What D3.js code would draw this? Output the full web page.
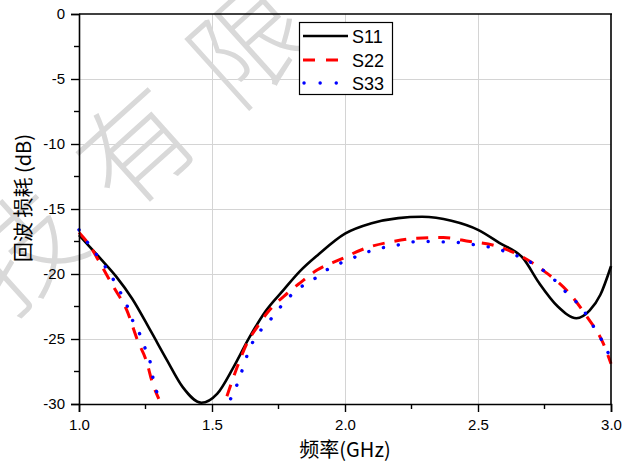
<!DOCTYPE html>
<html>
<head>
<meta charset="utf-8">
<script src="https://cdn.jsdelivr.net/npm/d3@7/dist/d3.min.js"></script>
<style>
  html, body { margin: 0; padding: 0; background: #fff; }
  svg { display: block; }
</style>
</head>
<body>
<svg id="chart" width="634" height="463"></svg>
<script>
// Return loss of three ports versus frequency (GHz, dB)
const s11Freq = [1.00, 1.08, 1.14, 1.20, 1.27, 1.33, 1.39, 1.46, 1.52, 1.58, 1.64, 1.70, 1.77, 1.83, 1.90,
                 2.00, 2.10, 2.20, 2.29, 2.40, 2.50, 2.58, 2.67, 2.73, 2.80, 2.87, 2.92, 2.96, 3.00];
const s11Vals = [-17.0, -18.8, -20.2, -21.9, -24.4, -26.6, -28.7, -29.9, -29.2, -27.2, -24.9, -22.9, -21.2, -19.8, -18.5,
                 -16.9, -16.1, -15.7, -15.6, -15.9, -16.6, -17.6, -18.8, -20.7, -22.5, -23.4, -22.8, -21.6, -19.4];

// S22 and S33 drop below the axis floor between the two branches (null = gap)
const s22Freq = [1.00, 1.04, 1.08, 1.13, 1.18, 1.22, 1.255, 1.275, 1.30, 1.43,
                 1.556, 1.594, 1.632, 1.669, 1.707, 1.782, 1.83, 1.895, 1.98, 2.08, 2.18, 2.27, 2.37, 2.47, 2.56, 2.65, 2.75, 2.84, 2.91, 2.97, 3.00];
const s22Vals = [-16.8, -17.8, -19.2, -21.0, -22.8, -25.1, -26.8, -28.3, -29.6, null,
                 -29.4, -27.2, -25.3, -24.1, -23.0, -21.5, -20.7, -19.7, -18.9, -18.0, -17.5, -17.25, -17.2, -17.5, -17.8, -18.5, -19.8, -21.4, -23.3, -25.3, -26.9];

const s33Freq = [1.00, 1.04, 1.08, 1.12, 1.15, 1.18, 1.20, 1.23, 1.25, 1.27, 1.28, 1.30, 1.43,
                 1.57, 1.60, 1.62, 1.64, 1.67, 1.72, 1.763, 1.82, 1.876, 1.93, 1.99, 2.05, 2.10, 2.16, 2.22, 2.27, 2.33, 2.39, 2.44,
                 2.50, 2.56, 2.62, 2.68, 2.73, 2.79, 2.84, 2.89, 2.93, 2.96, 2.99, 3.00];
const s33Vals = [-16.6, -17.8, -18.9, -20.1, -21.2, -22.4, -23.5, -24.7, -25.8, -27.0, -28.2, -29.4, null,
                 -29.6, -28.2, -27.0, -25.8, -24.7, -23.5, -22.4, -21.2, -20.5, -19.7, -19.1, -18.6, -18.2, -17.9, -17.7, -17.5, -17.5, -17.55, -17.6,
                 -17.8, -18.0, -18.4, -18.9, -19.5, -20.5, -21.6, -22.6, -23.9, -24.9, -26.1, -26.6];

const seriesNames = ["S11", "S22", "S33"];
const xTicks = [1.0, 1.5, 2.0, 2.5, 3.0];
const xMinorTicks = [1.25, 1.75, 2.25, 2.75];
const yTicks = [-30, -25, -20, -15, -10, -5, 0];
const yMinorTicks = [-27.5, -22.5, -17.5, -12.5, -7.5, -2.5];
const xTitle = "频率(GHz)";
const yTitle = "回波 损耗 (dB)";
const watermarkChars = ["技", "有", "限"];

const svg = d3.select("#chart");
const plotLeft = 79, plotRight = 611, plotTop = 14, plotBottom = 404;
const x = d3.scaleLinear().domain([1, 3]).range([plotLeft, plotRight]);
const y = d3.scaleLinear().domain([-30, 0]).range([plotBottom, plotTop]);

const font = '"Liberation Sans", Arial, sans-serif';
const cjk = '"Noto Sans CJK SC", "Liberation Sans", sans-serif';

// grid
const grid = svg.append("g").attr("stroke", "#d4d4d4").attr("stroke-width", 1);
grid.selectAll("line.h").data(yTicks.filter(v => v > -30 && v < 0)).join("line")
  .attr("x1", plotLeft).attr("x2", plotRight)
  .attr("y1", d => Math.round(y(d)) + 0.5).attr("y2", d => Math.round(y(d)) + 0.5);
grid.selectAll("line.v").data(xTicks.filter(v => v > 1 && v < 3)).join("line")
  .attr("y1", plotTop).attr("y2", plotBottom)
  .attr("x1", d => Math.round(x(d)) + 0.5).attr("x2", d => Math.round(x(d)) + 0.5);

// diagonal watermark text
const wm = svg.append("g").attr("fill", "#d9d9d9")
  .attr("font-family", cjk).attr("font-size", 112).attr("font-weight", 200);
watermarkChars.forEach((c, i) => {
  const k = i - 1;
  const cx = 137 + k * 113, cy = 148 - k * 103;
  wm.append("text").attr("text-anchor", "middle").attr("dy", "0.36em")
    .attr("transform", `translate(${cx},${cy}) rotate(-42)`).text(c);
});

// curves
const line = d3.line()
  .defined(d => d[1] !== null)
  .x(d => x(d[0])).y(d => y(d[1]))
  .curve(d3.curveMonotoneX);

const plot = svg.append("g");
const zip = (a, b) => a.map((v, i) => [v, b[i]]);

plot.append("path").datum(zip(s11Freq, s11Vals)).attr("d", line)
  .attr("fill", "none").attr("stroke", "#000").attr("stroke-width", 2.6);
plot.append("path").datum(zip(s22Freq, s22Vals)).attr("d", line)
  .attr("fill", "none").attr("stroke", "#ff0000").attr("stroke-width", 3)
  .attr("stroke-dasharray", "12,10");
plot.append("path").datum(zip(s33Freq, s33Vals)).attr("d", line)
  .attr("fill", "none").attr("stroke", "#0000ff").attr("stroke-width", 3.4)
  .attr("stroke-linecap", "round").attr("stroke-dasharray", "0.1,15");

// frame lines (top and right)
svg.append("line").attr("x1", plotLeft).attr("x2", plotRight + 1).attr("y1", plotTop).attr("y2", plotTop)
  .attr("stroke", "#000").attr("stroke-width", 1.6);
svg.append("line").attr("x1", plotRight).attr("x2", plotRight).attr("y1", plotTop).attr("y2", plotBottom)
  .attr("stroke", "#000").attr("stroke-width", 1.6);

// axes
const yAxis = d3.axisLeft(y).tickValues(yTicks).tickSize(8).tickPadding(6)
  .tickFormat(d => String(d));
const gy = svg.append("g").attr("transform", `translate(${plotLeft},0)`).call(yAxis);
gy.selectAll(".tick text").attr("font-size", 15).attr("font-family", font).attr("fill", "#000");
gy.selectAll(".tick line").attr("stroke-width", 1.4);
gy.select(".domain").attr("stroke-width", 1.6);
gy.selectAll("line.minor").data(yMinorTicks).join("line").attr("class", "minor")
  .attr("x1", -5).attr("x2", 0).attr("y1", d => y(d)).attr("y2", d => y(d))
  .attr("stroke", "#000").attr("stroke-width", 1.4);

const xAxis = d3.axisBottom(x).tickValues(xTicks).tickSize(8).tickPadding(7)
  .tickFormat(d3.format(".1f"));
const gx = svg.append("g").attr("transform", `translate(0,${plotBottom})`).call(xAxis);
gx.selectAll(".tick text").attr("font-size", 15).attr("font-family", font).attr("fill", "#000");
gx.selectAll(".tick line").attr("stroke-width", 1.4);
gx.select(".domain").attr("stroke-width", 1.6);
gx.selectAll("line.minor").data(xMinorTicks).join("line").attr("class", "minor")
  .attr("y1", 0).attr("y2", 5).attr("x1", d => x(d)).attr("x2", d => x(d))
  .attr("stroke", "#000").attr("stroke-width", 1.4);

// axis titles
svg.append("text").attr("x", 345).attr("y", 457).attr("text-anchor", "middle")
  .attr("font-family", cjk).attr("font-size", 20).text(xTitle);
svg.append("text").attr("transform", "translate(31,198) rotate(-90)").attr("text-anchor", "middle")
  .attr("font-family", cjk).attr("font-size", 20).attr("xml:space", "preserve").text(yTitle);

// legend
const lg = svg.append("g");
lg.append("rect").attr("x", 299.5).attr("y", 22.5).attr("width", 93).attr("height", 72)
  .attr("fill", "#fff").attr("stroke", "#000").attr("stroke-width", 1.2);
const styles = [
  { stroke: "#000", w: 2.6, dash: null, cap: "butt" },
  { stroke: "#ff0000", w: 3, dash: "12,11", cap: "butt" },
  { stroke: "#0000ff", w: 3.4, dash: "0.1,16", cap: "round" }
];
const rowsY = [36, 60, 83];
seriesNames.forEach((name, i) => {
  const s = styles[i];
  const l = lg.append("line").attr("x1", i === 2 ? 304 : 303).attr("x2", 348)
    .attr("y1", rowsY[i]).attr("y2", rowsY[i])
    .attr("stroke", s.stroke).attr("stroke-width", s.w).attr("stroke-linecap", s.cap);
  if (s.dash) l.attr("stroke-dasharray", s.dash);
  lg.append("text").attr("x", 352).attr("y", rowsY[i] + 6.5)
    .attr("font-family", font).attr("font-size", 18).text(name);
});
</script>
</body>
</html>
